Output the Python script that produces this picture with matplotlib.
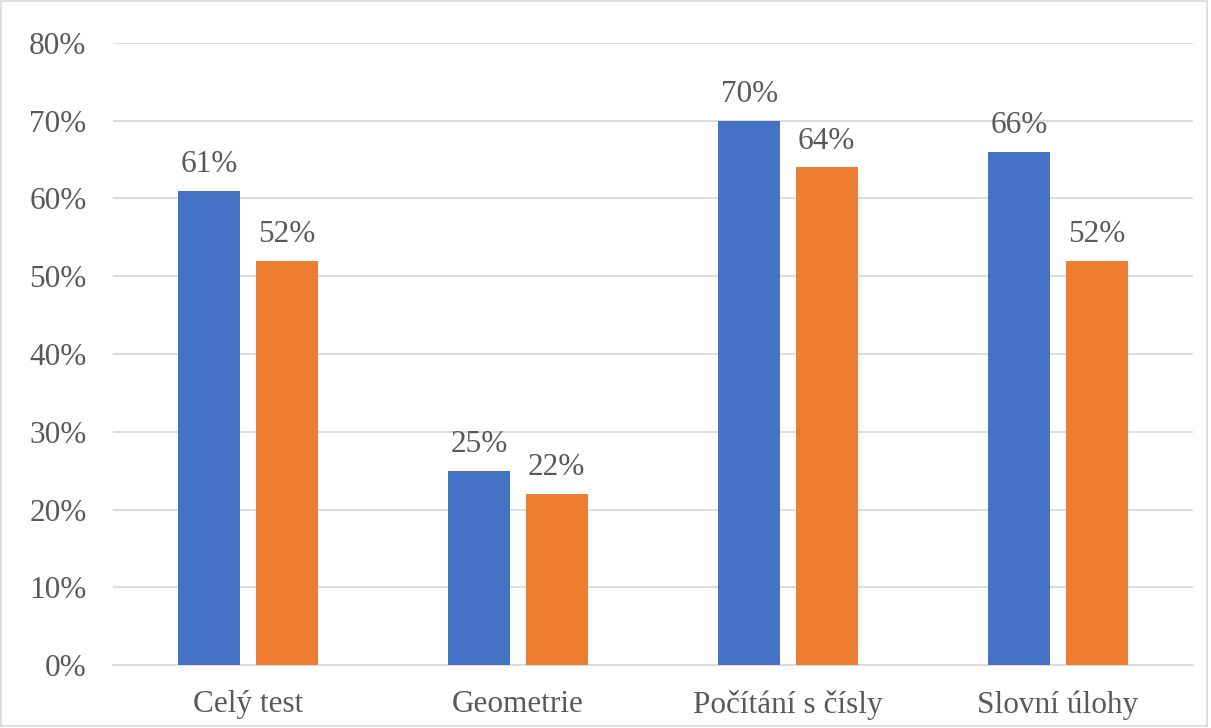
import numpy as np
import matplotlib.pyplot as plt
from matplotlib.patches import Rectangle

categories = ['Celý test', 'Geometrie', 'Počítání s čísly', 'Slovní úlohy']
series_a = [61, 25, 70, 66]
series_b = [52, 22, 64, 52]
yticks = [0, 10, 20, 30, 40, 50, 60, 70, 80]

plt.rcParams['font.family'] = ['Liberation Serif', 'DejaVu Serif']
txt = '#595959'
fs = 22.5

fig = plt.figure(figsize=(12.11, 7.28), dpi=100)
ax = fig.add_axes([0.0933, 0.0865, 0.8917, 0.8545])

x = np.arange(len(categories))
w = 0.23
off = 0.1435
bars_a = ax.bar(x - off, series_a, w, color='#4472C4', zorder=3)
bars_b = ax.bar(x + off, series_b, w, color='#ED7D31', zorder=3)

for bars, vals in ((bars_a, series_a), (bars_b, series_b)):
    for b, v in zip(bars, vals):
        ax.text(b.get_x() + b.get_width() / 2, v + 1.5, f'{v}%',
                ha='center', va='bottom', fontsize=fs, color=txt)

ax.set_xlim(-0.5, len(categories) - 0.5)
ax.set_ylim(0, 80)
ax.set_yticks(yticks)
ax.set_yticklabels([f'{t}%' for t in yticks])
ax.set_xticks(x)
ax.set_xticklabels(categories)
ax.tick_params(axis='both', length=0, labelsize=fs, colors=txt)
ax.tick_params(axis='y', pad=19)
ax.tick_params(axis='x', pad=18)
ax.yaxis.grid(True, color='#D9D9D9', linewidth=1.3, zorder=0)
for s in ['top', 'right', 'left']:
    ax.spines[s].set_visible(False)
ax.spines['bottom'].set_color('#D9D9D9')
ax.spines['bottom'].set_linewidth(1.3)

fig.patches.append(Rectangle((0.001, 0.003), 0.996, 0.995, transform=fig.transFigure,
                             fill=False, edgecolor='#D9D9D9', linewidth=1.2))

fig.savefig('out.png', dpi=100)
